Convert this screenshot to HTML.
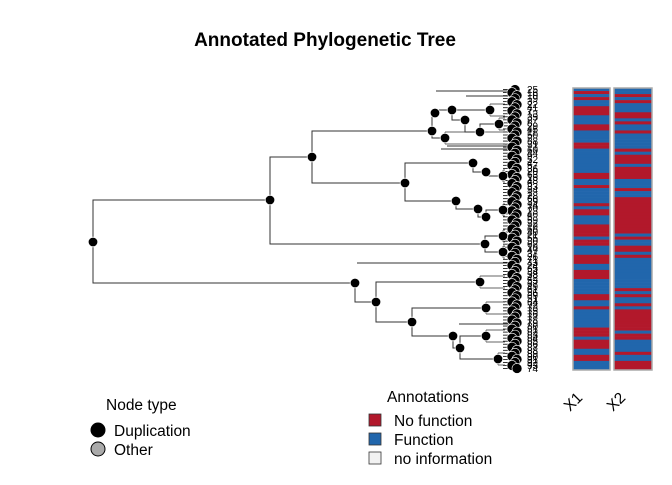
<!DOCTYPE html>
<html><head><meta charset="utf-8"><style>
body{margin:0;background:#fff;}
svg text{font-family:"Liberation Sans",sans-serif;}
</style></head><body>
<svg id="chart" width="672" height="480" xmlns="http://www.w3.org/2000/svg">
<text x="325" y="46" font-size="19" font-weight="bold" text-anchor="middle">Annotated Phylogenetic Tree</text>
<g id="tree"></g>
<g id="tips"></g>
<g id="heat"></g>
<text transform="translate(570,412) rotate(-45)" font-size="15.5">X1</text>
<text transform="translate(613,412) rotate(-45)" font-size="15.5">X2</text>
<g>
<text x="106" y="410" font-size="15.5">Node type</text>
<circle cx="98" cy="430" r="7.5" fill="#000"/>
<text x="114" y="436" font-size="15.5">Duplication</text>
<circle cx="98" cy="449" r="7" fill="#aaa" stroke="#000" stroke-width="1"/>
<text x="114" y="455" font-size="15.5">Other</text>
</g>
<g>
<text x="387" y="402" font-size="15.5">Annotations</text>
<rect x="369" y="414" width="12" height="12" fill="#b2182b" stroke="#333" stroke-width="0.8"/>
<text x="394" y="426" font-size="15.5">No function</text>
<rect x="369" y="433" width="12" height="12" fill="#2166ac" stroke="#333" stroke-width="0.8"/>
<text x="394" y="445" font-size="15.5">Function</text>
<rect x="369" y="452" width="12" height="12" fill="#f2f2f2" stroke="#333" stroke-width="0.8"/>
<text x="394" y="464" font-size="15.5">no information</text>
</g>
</svg>
<script>
const nodeNames=["R","A","F","B","E","C","D","C1","C2","C1a","C1b","C1c","C1d","C1e","D1","D2","D1a","D2a","D2b","D1b","D2c","E1","E2","F1","F1a","F1b","F1c","F1d","F1e","F1f","F1g"];
const nodeDepth=[93,270,355,312,485,432,405,435,445,452,465,490,480,499,473,456,486,478,486,503,503,503,503,376,480,412,486,453,460,486,498];
const nodeYs=[242,200,283,157,244,131,183,113,138,110,120,110,132,124,163,201,172,209,217,176,210,236,252,302,282,322,308,336,348,336,359];
const nodeParent=["","R","R","A","A","B","B","C","C","C1","C1a","C1a","C1b","C1d","D","D","D1","D2","D2a","D1a","D2b","E","E","F","F1","F1","F1b","F1b","F1d","F1e","F1e"];
const tipLabels=["25","16","10","19","3","22","41","7","13","35","27","8","29","45","11","50","2","38","31","17","60","44","9","52","4","57","36","20","63","15","48","6","33","54","1","28","66","39","14","70","23","46","5","59","32","12","68","40","21","55","30","62","18","47","37","26","71","43","24","65","34","58","42","53","67","49","61","56","69","51","64","72","73","75","76","77","78","79","80","81","82","83","84","85","86","87","88","89","90","91","92","93","74"];
const x1Red=[1,3,6,7,8,12,13,18,19,28,29,32,38,40,41,45,46,47,48,50,51,55,56,57,60,61,62,68,69,72,79,80,81,83,84,85,88,89];
const x2Red=[2,4,8,9,11,14,20,22,23,24,26,27,28,29,33,36,37,38,39,40,41,42,43,44,45,46,47,49,52,53,55,66,68,71,73,74,75,76,77,78,79,81,82,87,90,91,92];
const NS="http://www.w3.org/2000/svg";
const treeG=document.getElementById('tree'),tipsG=document.getElementById('tips'),heatG=document.getElementById('heat');
const nRows=tipLabels.length, yTop=88, yBottom=370, rowH=(yBottom-yTop)/nRows;
const rowY=i=>yTop+rowH*(i+0.5);
function mk(tag,attrs,parent){const e=document.createElementNS(NS,tag);for(const k in attrs)e.setAttribute(k,attrs[k]);parent.appendChild(e);return e;}
for(let i=0;i<nRows;i++){
  const y=rowY(i);
  const ln=mk('line',{x1:503,y1:y,x2:516,y2:y,stroke:'#000','stroke-width':0.8},treeG);
  
  
}
const idx={};nodeNames.forEach((n,i)=>idx[n]=i);
for(let i=0;i<nodeNames.length;i++){
  if(!nodeParent[i])continue;
  const p=idx[nodeParent[i]];
  const px=nodeDepth[p],py=nodeYs[p],cx=nodeDepth[i],cy=nodeYs[i];
  const path=mk('path',{d:`M${px},${py}V${cy}H${cx}`,fill:'none',stroke:'#333','stroke-width':1},treeG);
  
  
}
for(let i=0;i<nodeNames.length;i++){
  if(nodeParent.includes(nodeNames[i]))continue;
  const y=nodeYs[i],x=nodeDepth[i];
  const v=mk('path',{d:`M${x},${y-6}V${y+6}M${x},${y-6}H505M${x},${y+6}H505`,fill:'none',stroke:'#333','stroke-width':0.8},treeG);
  
  
}
const longTipX=[436,441,447,357,459,466];
const longTipY=[91,149,146,263,324,96];
for(let i=0;i<longTipX.length;i++){
  const l=mk('line',{x1:longTipX[i],y1:longTipY[i],x2:516,y2:longTipY[i],stroke:'#333','stroke-width':1},treeG);
  
  
}
for(let i=0;i<nRows;i++){
  const c=mk('circle',{cx:(i%3===0?515:(i%3===1?512:517)),cy:rowY(i),r:5,fill:'#000',stroke:'#fff','stroke-width':0.6},treeG);
  
  
}
for(let i=0;i<nodeNames.length;i++){
  const c=mk('circle',{cx:nodeDepth[i],cy:nodeYs[i],r:4.8,fill:'#000',stroke:'#fff','stroke-width':0.8},treeG);
  
  
}
for(let i=0;i<nRows;i++){
  const t=mk('text',{x:527,y:rowY(i)+3.5,'font-size':10},tipsG);
  t.textContent=tipLabels[i];
  
  
}
function col(x,w,red,name){
  for(let i=0;i<nRows;i++){
    const r=mk('rect',{x:x,y:yTop+rowH*i,width:w,height:rowH+0.3,fill:red.includes(i)?'#b2182b':'#2166ac'},heatG);
    
    
  }
  const b=mk('rect',{x:x,y:yTop,width:w,height:yBottom-yTop,fill:'none',stroke:'#aaa','stroke-width':1.5},heatG);
  
  
}
col(573,37,x1Red,'x1');
col(614,38,x2Red,'x2');
</script>
</body></html>
